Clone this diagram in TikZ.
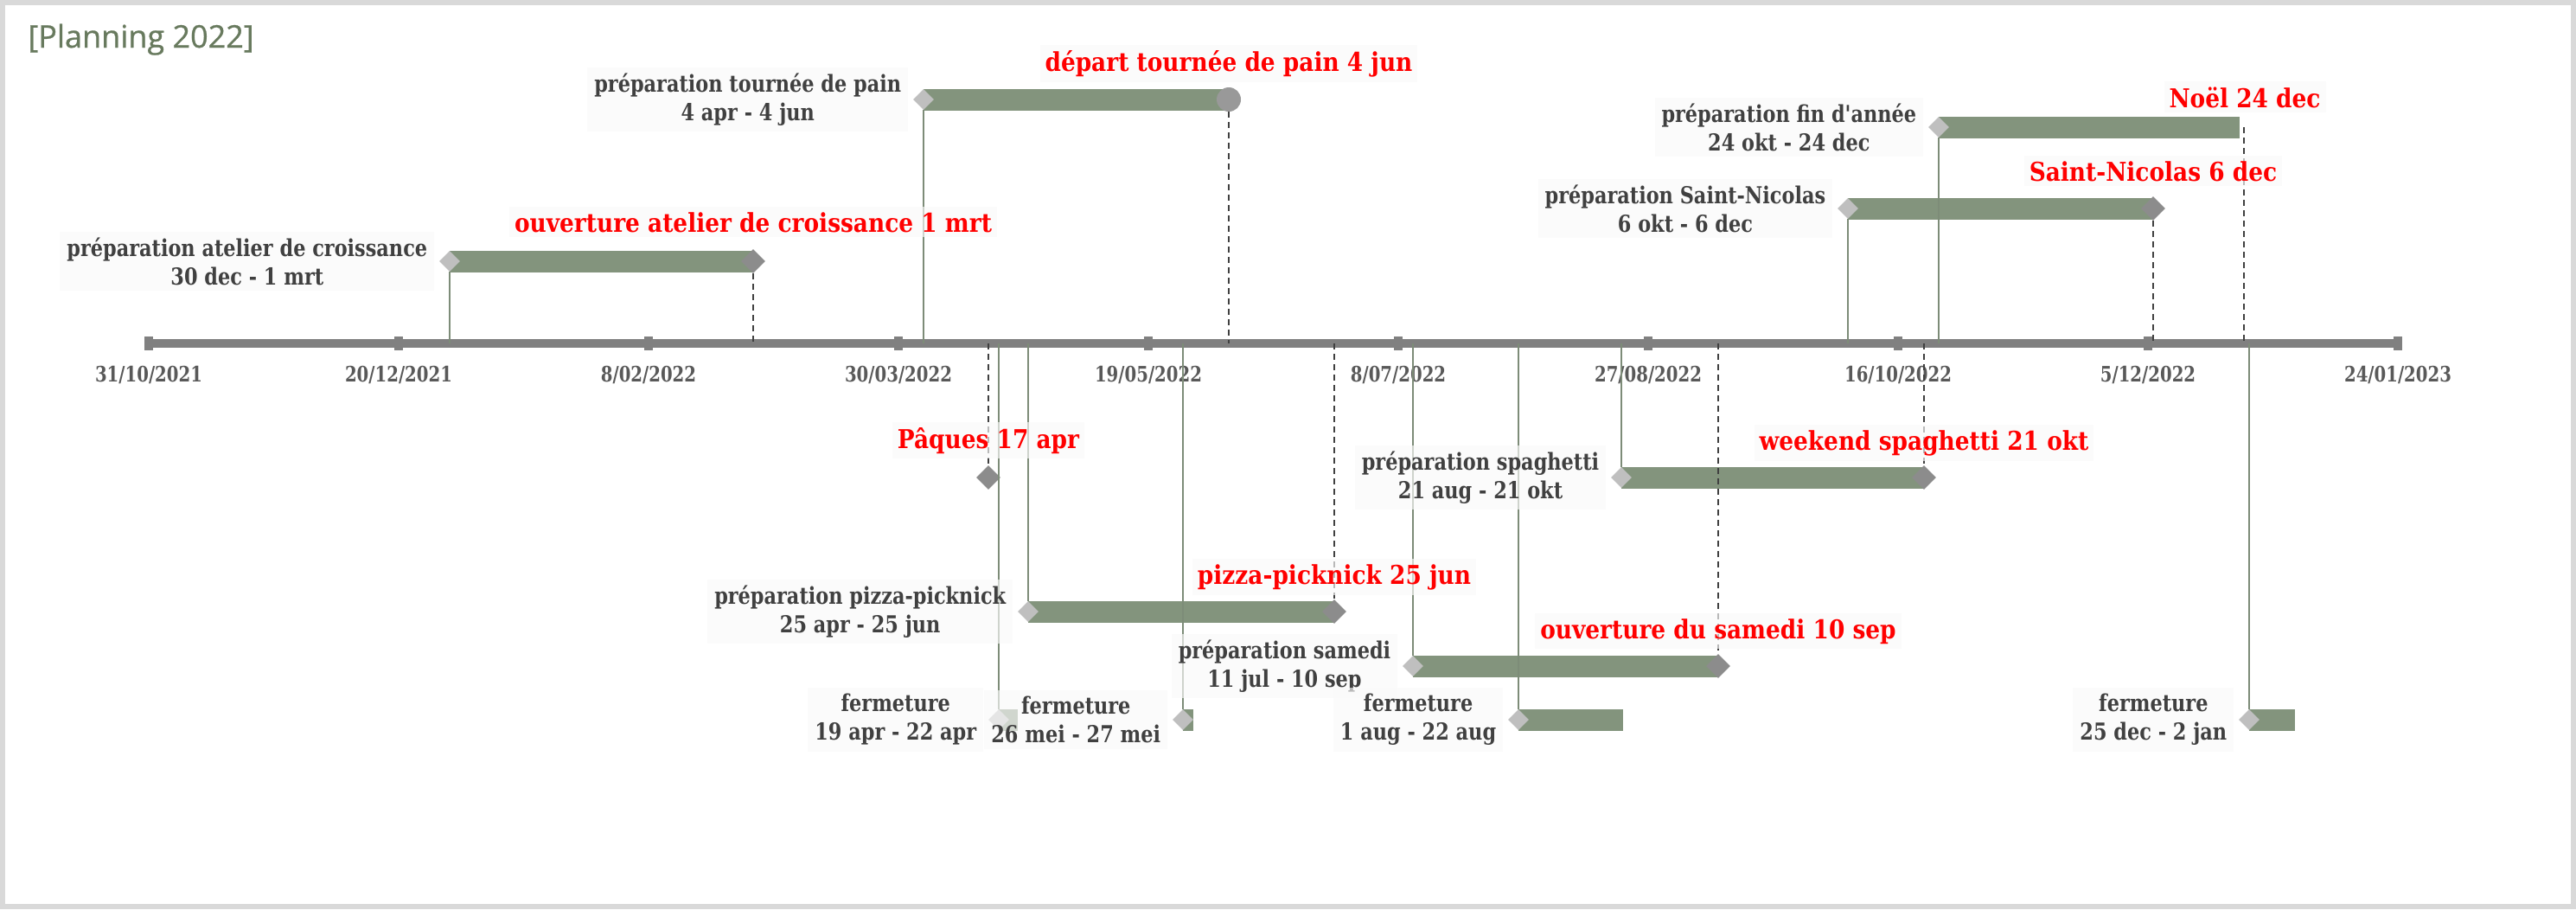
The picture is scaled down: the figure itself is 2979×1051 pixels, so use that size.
\documentclass[tikz,border=0pt]{standalone}
\usepackage{fontspec}
\usetikzlibrary{shapes.geometric,positioning}
\newfontfamily\datefont{DejaVu Serif}[FakeStretch=0.8]
\newfontfamily\chartfont{DejaVu Serif}[FakeStretch=0.83]
\newfontfamily\redfont{DejaVu Serif}[FakeStretch=0.88]
\newfontfamily\titlefont{Open Sans}[BoldFont=*,BoldFeatures={FakeBold=0.7}]
\definecolor{barcol}{RGB}{131,148,125}
\definecolor{stemcol}{RGB}{125,140,120}
\definecolor{dashcol}{RGB}{64,64,64}
\definecolor{labelcol}{RGB}{64,64,64}
\definecolor{datecol}{RGB}{89,89,89}
\definecolor{titlecol}{RGB}{104,122,94}
\begin{document}
\begin{tikzpicture}[x=0.5pt, y=-0.5pt,
  bar/.style={fill=barcol},
  tick/.style={rectangle,fill=black!50,inner sep=0pt,minimum width=5pt,minimum height=8pt},
  ticklbl/.style={anchor=base,inner sep=0pt,text=datecol,font=\datefont\bfseries\fontsize{12.3}{15}\selectfont},
  startmark/.style={diamond,fill=black!25,inner sep=0pt,minimum width=12pt,minimum height=12pt},
  endmark/.style={diamond,fill=black!45,inner sep=0pt,minimum width=14pt,minimum height=14pt},
  endround/.style={circle,fill=black!40,inner sep=0pt,minimum size=14pt},
  stem/.style={draw=stemcol,line width=1pt},
  endline/.style={draw=dashcol,line width=1pt,dash pattern=on 3.5pt off 2.5pt},
  lbl/.style={fill=black!2,fill opacity=0.65,text opacity=1,text=labelcol,align=center,
    inner xsep=4pt,inner ysep=3.5pt,font=\chartfont\bfseries\fontsize{13.5}{16.5}\selectfont},
  milestone/.style={anchor=base,fill=black!2,fill opacity=0.65,text opacity=1,text=red,
    inner sep=3pt,font=\redfont\bfseries\fontsize{15}{17}\selectfont}]
\useasboundingbox (0,0) rectangle (2979,1051);
\fill[white] (0,0) rectangle (2979,1051);
\draw[black!15,line width=3pt] (3,3) rectangle (2975.5,1048);
\node[anchor=base west,inner sep=0pt,text=titlecol,font=\titlefont\bfseries\fontsize{18}{22}\selectfont] (title) at (32,55) {[Planning 2022]};

\coordinate (ax) at (172,397);
\draw[black!50,line width=5pt] (ax) -- (2774,397);
\foreach \d [count=\i from 0] in {31/10/2021,20/12/2021,8/02/2022,30/03/2022,19/05/2022,8/07/2022,27/08/2022,16/10/2022,5/12/2022,24/01/2023}{
  \node[tick] (t\i) at ({172+289*\i},397) {};
  \node[ticklbl] (d\i) at ({172+289*\i},441) {\d};
}

\fill[bar] (520,289.5) rectangle (871,314.5);
\fill[bar] (1068,102.5) rectangle (1420,127.5);
\fill[bar] (2242,134.5) rectangle (2590,159.5);
\fill[bar] (2137,228.5) rectangle (2490,253.5);
\fill[bar] (1875,539.5) rectangle (2225,564.5);
\fill[bar] (1189,694.5) rectangle (1543,719.5);
\fill[bar] (1634,757.5) rectangle (1987,782.5);
\fill[bar] (1155,819.5) rectangle (1177,844.5);
\fill[bar] (1368,819.5) rectangle (1380,844.5);
\fill[bar] (1756,819.5) rectangle (1877,844.5);
\fill[bar] (2601,819.5) rectangle (2654,844.5);

\node[startmark] (a0) at (520,302) {};
\node[endmark] (a1) at (871,302) {};
\node[startmark] (b0) at (1068,115) {};
\node[endround] (b1) at (1421,115) {};
\node[startmark] (c0) at (2242,147) {};
\coordinate (c1) at (2595,147);
\node[startmark] (n0) at (2137,241) {};
\node[endmark] (n1) at (2490,241) {};
\node[endmark] (q) at (1143,552) {};
\node[startmark] (s0) at (1875,552) {};
\node[endmark] (s1) at (2225,552) {};
\node[startmark] (p0) at (1189,707) {};
\node[endmark] (p1) at (1543,707) {};
\node[startmark] (m0) at (1634,770) {};
\node[endmark] (m1) at (1987,770) {};
\node[startmark] (f1) at (1155,832) {};
\node[startmark] (f2) at (1368,832) {};
\node[startmark] (f3) at (1756,832) {};
\node[startmark] (f4) at (2601,832) {};

\draw[stem] (a0) -- (a0 |- ax);
\draw[stem] (b0) -- (b0 |- ax);
\draw[stem] (c0) -- (c0 |- ax);
\draw[stem] (n0) -- (n0 |- ax);
\draw[endline] (a1) -- (a1 |- ax);
\draw[endline] (b1) -- (b1 |- ax);
\draw[endline] (c1) -- (c1 |- ax);
\draw[endline] (n1) -- (n1 |- ax);
\draw[stem] (ax -| s0) -- (s0);
\draw[stem] (ax -| p0) -- (p0);
\draw[stem] (ax -| m0) -- (m0);
\draw[stem] (ax -| f1) -- (f1);
\draw[stem] (ax -| f2) -- (f2);
\draw[stem] (ax -| f3) -- (f3);
\draw[stem] (ax -| f4) -- (f4);
\draw[endline] (ax -| q) -- (q);
\draw[endline] (ax -| s1) -- (s1);
\draw[endline] (ax -| p1) -- (p1);
\draw[endline] (ax -| m1) -- (m1);

\node[lbl,left=2.5pt of a0] (la) {préparation atelier de croissance\\30 dec - 1 mrt};
\node[lbl,left=2.5pt of b0] (lb) {préparation tournée de pain\\4 apr - 4 jun};
\node[lbl,left=2.5pt of c0] (lc) {préparation fin d'année\\24 okt - 24 dec};
\node[lbl,left=2.5pt of n0] (ln) {préparation Saint-Nicolas\\6 okt - 6 dec};
\node[lbl,left=2.5pt of s0] (ls) {préparation spaghetti\\21 aug - 21 okt};
\node[lbl,left=2.5pt of p0] (lp) {préparation pizza-picknick\\25 apr - 25 jun};
\node[lbl,left=2.5pt of m0] (lm) {préparation samedi\\11 jul - 10 sep};
\node[lbl,left=2.5pt of f1] (l1) {fermeture\\19 apr - 22 apr};
\node[lbl,left=2.5pt of f2] (l2) {fermeture\\26 mei - 27 mei};
\node[lbl,left=2.5pt of f3] (l3) {fermeture\\1 aug - 22 aug};
\node[lbl,left=2.5pt of f4] (l4) {fermeture\\25 dec - 2 jan};

\node[milestone] (ra) at (871,268) {ouverture atelier de croissance 1 mrt};
\node[milestone] (rb) at (1421,82) {départ tournée de pain 4 jun};
\node[milestone] (rc) at (2596,124) {Noël 24 dec};
\node[milestone] (rn) at (2490,209) {Saint-Nicolas 6 dec};
\node[milestone] (rq) at (1143,518) {Pâques 17 apr};
\node[milestone] (rs) at (2225,520) {weekend spaghetti 21 okt};
\node[milestone] (rp) at (1543,675) {pizza-picknick 25 jun};
\node[milestone] (rm) at (1987,738) {ouverture du samedi 10 sep};
\end{tikzpicture}
\end{document}
